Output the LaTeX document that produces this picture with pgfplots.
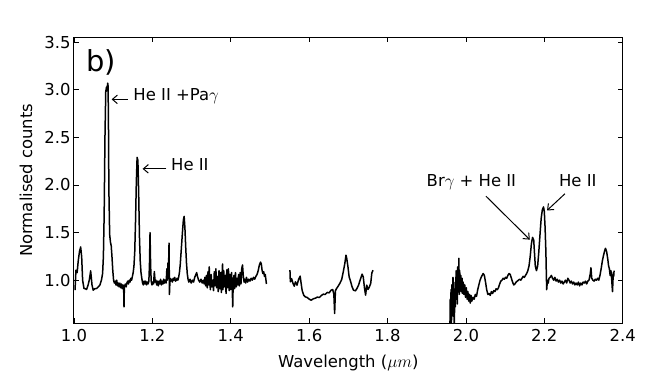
\documentclass[border=0pt]{standalone}
\usepackage{fontspec}
\setmainfont{DejaVu Sans}
\usepackage{pgfplots}
\pgfplotsset{compat=1.18}
\usetikzlibrary{arrows.meta}
\newcommand{\fs}{\fontsize{16.5}{20}\selectfont}
\tikzset{ann/.style={-{Straight Barb[length=5bp,width=8.5bp]}, line width=1bp}}
\begin{document}
\begin{tikzpicture}
\begin{axis}[
  scale only axis,
  width=548.7bp, height=285.5bp,
  xmin=1.0, xmax=2.4, ymin=0.55, ymax=3.55,
  xtick={1.0,1.2,1.4,1.6,1.8,2.0,2.2,2.4},
  ytick={1.0,1.5,2.0,2.5,3.0,3.5},
  /pgf/number format/assume math mode=true,
  /pgf/number format/.cd, fixed, fixed zerofill, precision=1, /pgfplots/.cd,
  tick label style={font=\fs},
  xticklabel style={yshift=-3bp},
  tick align=inside,
  major tick length=5bp,
  every tick/.style={black, line width=0.8bp},
  axis line style={line width=1bp},
  every axis x label/.style={at={(axis description cs:0.5,-0.140)}, anchor=center, inner sep=0pt, font=\fs},
  every axis y label/.style={at={(axis description cs:-0.0875,0.5)}, rotate=90, anchor=center, inner sep=0pt, font=\fs},
  xlabel={Wavelength ($\mu m$)},
  ylabel={Normalised counts},
  clip=true,
]
\addplot[black, line width=1.5bp, line join=round] coordinates {
(1.0026,0.895) (1.004,1.02) (1.005,1.105) (1.008,1.08) (1.011,1.21) (1.014,1.30) (1.017,1.349) (1.0196,1.244) (1.022,1.0) (1.0255,0.913) (1.029,0.91) (1.032,0.902) (1.036,0.95) (1.039,1.0) (1.0425,1.098) (1.046,0.948) (1.049,0.895) (1.053,0.91) (1.058,0.913) (1.062,0.93) (1.066,0.948) (1.070,1.0) (1.073,1.07) (1.075,1.25) (1.077,1.70) (1.079,2.50) (1.081,2.98) (1.083,3.03) (1.084,2.99) (1.086,3.07) (1.087,3.04) (1.088,2.60) (1.089,1.95) (1.091,1.48) (1.093,1.40) (1.095,1.36) (1.097,1.24) (1.099,1.10) (1.101,1.00) (1.103,0.97) (1.105,0.99) (1.107,0.95) (1.109,1.00) (1.111,0.94) (1.113,0.97) (1.115,0.93) (1.117,0.97) (1.119,0.92) (1.121,0.96) (1.123,0.91) (1.125,0.95) (1.1268,0.90) (1.1276,0.72) (1.1285,0.93) (1.131,0.96) (1.133,0.93) (1.135,0.97) (1.137,0.99) (1.139,0.96) (1.141,1.00) (1.143,0.98) (1.145,1.02) (1.147,1.00) (1.149,1.04) (1.151,1.08) (1.153,1.15) (1.155,1.30) (1.157,1.62) (1.159,2.02) (1.161,2.29) (1.163,2.26) (1.165,1.92) (1.167,1.46) (1.169,1.20) (1.171,1.08) (1.173,1.02) (1.175,0.97) (1.177,0.95) (1.179,0.99) (1.181,0.96) (1.183,0.99) (1.185,0.95) (1.187,0.98) (1.189,0.96) (1.191,0.99) (1.1925,1.15) (1.194,1.50) (1.1955,1.15) (1.197,0.99) (1.199,0.95) (1.201,0.98) (1.203,0.96) (1.205,1.09) (1.207,0.98) (1.209,1.00) (1.211,0.95) (1.213,0.99) (1.215,0.94) (1.217,0.99) (1.219,0.96) (1.221,1.01) (1.223,0.95) (1.225,0.99) (1.227,0.96) (1.229,1.01) (1.231,0.97) (1.233,1.00) (1.235,0.97) (1.237,1.12) (1.2385,1.00) (1.2395,1.18) (1.241,1.08) (1.2425,1.39) (1.2435,0.85) (1.245,1.02) (1.247,0.99) (1.249,1.01) (1.251,0.98) (1.253,1.02) (1.255,1.00) (1.257,1.03) (1.259,0.99) (1.261,1.00) (1.263,1.02) (1.265,1.00) (1.267,1.03) (1.269,1.08) (1.271,1.16) (1.273,1.28) (1.275,1.40) (1.277,1.52) (1.279,1.63) (1.281,1.67) (1.283,1.55) (1.285,1.35) (1.287,1.18) (1.289,1.07) (1.291,1.01) (1.293,0.98) (1.296,1.01) (1.299,0.97) (1.302,1.00) (1.305,0.98) (1.308,1.03) (1.311,1.06) (1.313,1.08) (1.315,1.04) (1.318,1.00) (1.321,0.98) (1.324,1.01) (1.327,0.97) (1.330,1.00) (1.332,0.96) (1.334,1.03) (1.336,0.94) (1.338,1.05) (1.340,0.92) (1.342,1.09) (1.344,0.95) (1.345,1.14) (1.346,1.02) (1.348,0.90) (1.350,1.06) (1.352,0.93) (1.354,1.00) (1.356,0.89) (1.358,1.09) (1.360,0.94) (1.362,1.12) (1.364,0.92) (1.366,1.04) (1.368,0.88) (1.370,1.10) (1.372,0.91) (1.374,1.08) (1.376,0.87) (1.379,1.17) (1.380,0.90) (1.382,1.10) (1.384,0.93) (1.386,1.05) (1.388,0.86) (1.390,1.11) (1.392,0.92) (1.394,1.12) (1.396,0.89) (1.398,1.06) (1.400,0.90) (1.402,1.08) (1.404,0.88) (1.405,0.72) (1.406,0.94) (1.408,1.05) (1.410,0.91) (1.412,1.08) (1.414,0.93) (1.416,1.02) (1.418,0.95) (1.420,1.06) (1.422,0.94) (1.424,1.08) (1.426,0.96) (1.428,1.12) (1.430,1.16) (1.432,1.04) (1.434,0.98) (1.436,1.01) (1.438,0.97) (1.440,1.03) (1.443,0.98) (1.446,1.01) (1.449,0.99) (1.452,1.02) (1.455,1.00) (1.458,1.03) (1.461,1.01) (1.464,1.04) (1.467,1.06) (1.470,1.10) (1.473,1.16) (1.476,1.19) (1.478,1.17) (1.480,1.10) (1.482,1.07) (1.484,1.09) (1.486,1.04) (1.488,1.06) (1.491,0.96)
};
\addplot[black, line width=1.5bp, line join=round] coordinates {
(1.551,1.105) (1.552,0.983) (1.555,1.017) (1.559,0.965) (1.562,0.937) (1.565,0.983) (1.569,0.948) (1.573,1.007) (1.577,1.042) (1.579,0.983) (1.582,0.895) (1.586,0.843) (1.590,0.825) (1.595,0.818) (1.600,0.801) (1.605,0.79) (1.611,0.805) (1.616,0.811) (1.621,0.822) (1.626,0.818) (1.631,0.839) (1.636,0.853) (1.641,0.85) (1.646,0.871) (1.651,0.867) (1.656,0.895) (1.660,0.902) (1.663,0.853) (1.665,0.651) (1.667,0.888) (1.670,0.913) (1.674,0.937) (1.679,0.972) (1.683,1.007) (1.687,1.087) (1.691,1.175) (1.694,1.262) (1.696,1.227) (1.699,1.14) (1.702,1.035) (1.706,0.983) (1.709,0.937) (1.713,0.895) (1.718,0.888) (1.722,0.913) (1.726,0.948) (1.730,1.0) (1.735,1.063) (1.738,1.035) (1.741,0.923) (1.744,0.843) (1.747,0.948) (1.750,0.902) (1.753,0.923) (1.757,0.965) (1.760,1.077) (1.763,1.105)
};
\addplot[black, line width=1.5bp, line join=round] coordinates {
(1.959,0.45) (1.960,0.80) (1.961,0.60) (1.962,0.90) (1.963,0.50) (1.964,0.95) (1.966,0.70) (1.967,1.03) (1.968,0.62) (1.969,0.98) (1.970,0.50) (1.972,0.88) (1.973,0.72) (1.975,1.10) (1.976,0.80) (1.977,1.05) (1.978,0.75) (1.979,1.14) (1.981,0.90) (1.982,1.23) (1.983,0.85) (1.984,1.10) (1.986,0.92) (1.987,1.05) (1.988,0.88) (1.990,1.02) (1.991,0.86) (1.993,0.98) (1.995,0.85) (1.997,0.95) (1.999,0.82) (2.001,0.92) (2.003,0.80) (2.005,0.88) (2.007,0.78) (2.009,0.85) (2.011,0.76) (2.013,0.84) (2.015,0.78) (2.018,0.82) (2.021,0.80) (2.024,0.85) (2.027,0.83) (2.030,0.90) (2.033,0.95) (2.036,1.00) (2.040,1.04) (2.044,1.07) (2.047,1.05) (2.050,0.98) (2.053,0.90) (2.056,0.85) (2.059,0.86) (2.062,0.84) (2.065,0.88) (2.068,0.86) (2.071,0.89) (2.074,0.88) (2.077,0.91) (2.080,0.90) (2.083,0.92) (2.086,0.96) (2.089,0.99) (2.092,1.00) (2.095,1.02) (2.098,1.01) (2.101,1.03) (2.104,1.02) (2.107,1.05) (2.110,1.07) (2.113,1.06) (2.116,1.02) (2.119,0.98) (2.122,0.95) (2.125,0.96) (2.128,0.98) (2.131,0.99) (2.134,1.00) (2.137,1.01) (2.140,1.00) (2.143,1.02) (2.146,1.04) (2.149,1.03) (2.152,1.05) (2.155,1.07) (2.158,1.10) (2.161,1.15) (2.164,1.25) (2.167,1.38) (2.170,1.45) (2.173,1.42) (2.175,1.28) (2.177,1.15) (2.180,1.10) (2.183,1.15) (2.186,1.30) (2.189,1.48) (2.192,1.65) (2.195,1.74) (2.198,1.77) (2.200,1.72) (2.202,1.55) (2.204,1.30) (2.206,0.90) (2.208,1.00) (2.210,0.97) (2.212,1.02) (2.215,1.03) (2.218,1.05) (2.221,1.02) (2.224,1.00) (2.227,1.03) (2.230,0.99) (2.233,1.01) (2.236,0.98) (2.239,1.00) (2.242,0.97) (2.245,0.99) (2.248,0.96) (2.251,0.98) (2.254,1.00) (2.257,0.97) (2.260,1.02) (2.263,1.00) (2.266,0.97) (2.269,0.99) (2.272,0.96) (2.275,0.98) (2.278,0.95) (2.281,0.97) (2.284,0.95) (2.287,0.98) (2.290,0.94) (2.293,0.97) (2.296,0.95) (2.299,0.98) (2.302,0.97) (2.305,0.99) (2.308,0.96) (2.311,0.99) (2.314,1.00) (2.317,1.06) (2.319,1.13) (2.321,1.02) (2.324,1.00) (2.327,0.99) (2.330,1.01) (2.333,1.00) (2.336,1.02) (2.339,1.00) (2.342,1.05) (2.345,1.12) (2.348,1.20) (2.351,1.26) (2.354,1.31) (2.356,1.335) (2.359,1.30) (2.362,1.22) (2.364,1.15) (2.366,1.12) (2.368,1.05) (2.370,1.10) (2.372,1.00) (2.374,0.88) (2.376,1.08) (2.377,1.04) (2.378,1.10)
};
% annotations
\node[anchor=base west, inner sep=0pt, font=\fontsize{29}{34}\selectfont] at (axis cs:1.0306,3.192) {b)};
\node[anchor=base west, inner sep=0pt, font=\fs] at (axis cs:1.1513,2.892) {He II +Pa$\gamma$};
\draw[ann] (axis cs:1.137,2.90) -- (axis cs:1.096,2.90);
\node[anchor=base west, inner sep=0pt, font=\fs] at (axis cs:1.2474,2.152) {He II};
\draw[ann] (axis cs:1.236,2.17) -- (axis cs:1.175,2.17);
\node[anchor=base west, inner sep=0pt, font=\fs] at (axis cs:1.8995,1.984) {Br$\gamma$ + He II};
\draw[ann] (axis cs:2.051,1.883) -- (axis cs:2.163,1.426);
\node[anchor=base west, inner sep=0pt, font=\fs] at (axis cs:2.2372,1.987) {He II};
\draw[ann] (axis cs:2.2526,1.908) -- (axis cs:2.207,1.733);
\coordinate (SW) at (axis description cs:0,0);
\coordinate (NE) at (axis description cs:1,1);
\end{axis}
\pgfresetboundingbox
\useasboundingbox ([xshift=-74bp,yshift=-52bp]SW) rectangle ([xshift=40.3bp,yshift=37.5bp]NE);
\end{tikzpicture}
\end{document}
